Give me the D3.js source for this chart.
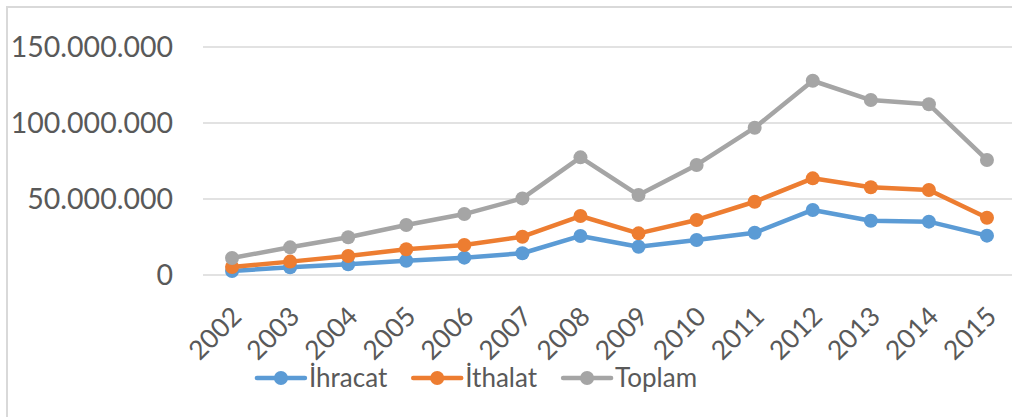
<!DOCTYPE html>
<html>
<head>
<meta charset="utf-8">
<script src="https://cdn.jsdelivr.net/npm/d3@7"></script>
<style>
  body { margin: 0; background: #fff; }
  svg text { font-family: Lato, "Open Sans", sans-serif; fill: #595959; }
</style>
</head>
<body>
<div id="chart"></div>
<script>
const years = ['2002', '2003', '2004', '2005', '2006', '2007', '2008', '2009', '2010', '2011', '2012', '2013', '2014', '2015'];
const ihracat = [2.6e6, 5.1e6, 7.0e6, 9.4e6, 11.4e6, 14.3e6, 25.7e6, 18.6e6, 23.0e6, 27.8e6, 42.8e6, 35.7e6, 35.1e6, 25.9e6];
const ithalat = [5.3e6, 8.8e6, 12.5e6, 16.9e6, 19.7e6, 25.2e6, 38.8e6, 27.4e6, 36.2e6, 48.2e6, 63.6e6, 57.7e6, 55.9e6, 37.7e6];
const toplam  = [11.2e6, 18.2e6, 24.8e6, 32.9e6, 40.1e6, 50.4e6, 77.4e6, 52.6e6, 72.4e6, 96.9e6, 127.8e6, 115.1e6, 112.3e6, 75.7e6];
const yTicks = [0, 50e6, 100e6, 150e6];

const series = [
  { name: 'İhracat', values: ihracat, color: '#5B9BD5' },
  { name: 'İthalat', values: ithalat, color: '#ED7D31' },
  { name: 'Toplam',  values: toplam,  color: '#A5A5A5' }
];

const width = 1012, height = 417;

const svg = d3.select('#chart')
  .append('svg')
  .attr('width', width)
  .attr('height', height);

// dış çerçeve
svg.append('path')
  .attr('d', 'M7,417 V7 H1012')
  .attr('fill', 'none')
  .attr('stroke', '#D9D9D9')
  .attr('stroke-width', 2);

const x = d3.scalePoint()
  .domain(years)
  .range([203, 1016])
  .padding(0.5);

const y = d3.scaleLinear()
  .domain([0, 150e6])
  .range([275, 47]);

const fmt = d3.formatLocale({ decimal: ',', thousands: '.', grouping: [3], currency: ['', ''] }).format(',d');

// yatay ızgara çizgileri
svg.append('g')
  .selectAll('line')
  .data(yTicks)
  .enter().append('line')
  .attr('x1', 203)
  .attr('x2', 1012)
  .attr('y1', d => y(d))
  .attr('y2', d => y(d))
  .attr('stroke', '#D9D9D9')
  .attr('stroke-width', 1.5);

// y ekseni etiketleri
svg.append('g')
  .selectAll('text')
  .data(yTicks)
  .enter().append('text')
  .attr('x', 173)
  .attr('y', d => y(d))
  .attr('dy', '0.36em')
  .style('text-anchor', 'end')
  .style('font-size', '28.5px')
  .text(d => fmt(d));

// x ekseni etiketleri (eğik)
svg.append('g')
  .selectAll('text')
  .data(years)
  .enter().append('text')
  .attr('transform', d => `translate(${x(d) - 2}, 305) rotate(-45)`)
  .attr('dy', '0.7em')
  .style('text-anchor', 'end')
  .style('font-size', '26.5px')
  .text(d => d);

const line = d3.line()
  .x((d, i) => x(years[i]))
  .y(d => y(d));

const g = svg.append('g');
series.forEach(s => {
  g.append('path')
    .datum(s.values)
    .attr('fill', 'none')
    .attr('stroke', s.color)
    .attr('stroke-width', 4.5)
    .attr('stroke-linejoin', 'round')
    .attr('d', line);
  g.selectAll(null)
    .data(s.values)
    .enter().append('circle')
    .attr('cx', (d, i) => x(years[i]))
    .attr('cy', d => y(d))
    .attr('r', 7)
    .attr('fill', s.color);
});

// lejant
const legend = svg.append('g');
let lx = 0;
series.forEach(s => {
  const item = legend.append('g').attr('transform', `translate(${lx}, 378)`);
  item.append('line')
    .attr('x1', 0).attr('x2', 48)
    .attr('stroke', s.color)
    .attr('stroke-width', 4.5)
    .attr('stroke-linecap', 'round');
  item.append('circle')
    .attr('cx', 24)
    .attr('r', 7)
    .attr('fill', s.color);
  const t = item.append('text')
    .attr('x', 52)
    .attr('dy', '0.36em')
    .style('font-size', '26px')
    .text(s.name);
  lx += 52 + t.node().getComputedTextLength() + 26;
});
const legendWidth = lx - 26;
legend.attr('transform', `translate(${477 - legendWidth / 2}, 0)`);
</script>
</body>
</html>
